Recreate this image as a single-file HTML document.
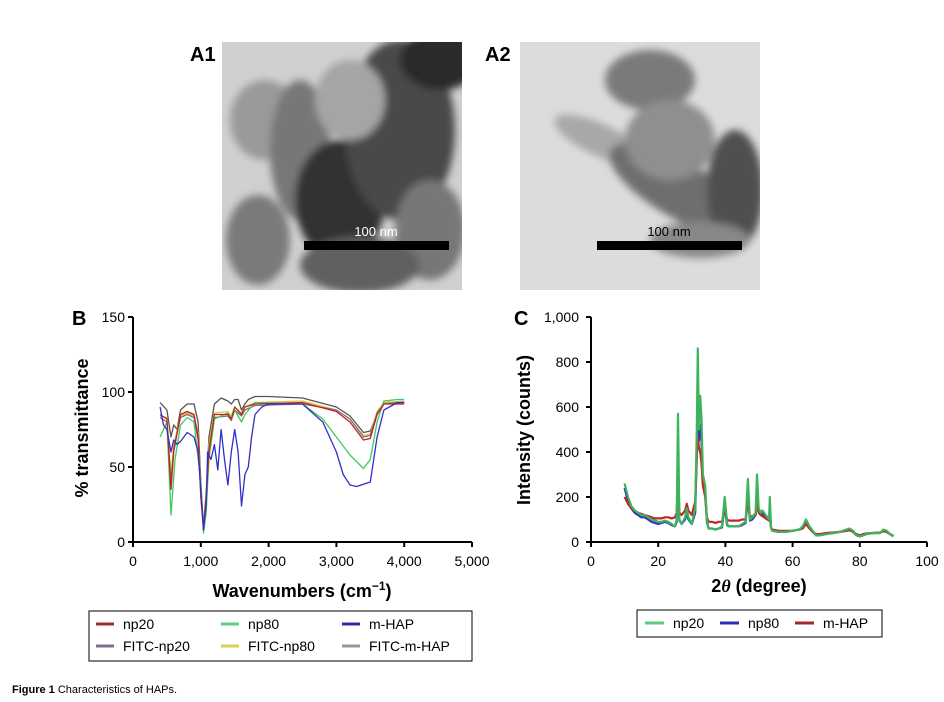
<!DOCTYPE html>
<html><head><meta charset="utf-8"><style>
html,body{margin:0;padding:0;background:#fff;}
svg{display:block;font-family:"Liberation Sans",Arial,sans-serif;}
</style></head><body>
<svg id="fig" width="944" height="702" viewBox="0 0 944 702" xmlns="http://www.w3.org/2000/svg">
<defs>
<filter id="blur" x="-20%" y="-20%" width="140%" height="140%"><feGaussianBlur stdDeviation="4"/></filter>
<clipPath id="c1"><rect x="222" y="42" width="240" height="248"/></clipPath>
<clipPath id="c2"><rect x="520" y="42" width="240" height="248"/></clipPath>
</defs>
<text x="190" y="61" font-size="20" font-weight="bold">A1</text>
<g clip-path="url(#c1)">
<rect x="222" y="42" width="240" height="248" fill="#d0d0d0"/>
<g filter="url(#blur)">
<ellipse cx="265" cy="120" rx="35" ry="40" fill="#9a9a9a"/>
<ellipse cx="258" cy="240" rx="32" ry="45" fill="#7a7a7a"/>
<ellipse cx="300" cy="150" rx="30" ry="70" fill="#777"/>
<ellipse cx="340" cy="200" rx="45" ry="60" fill="#333"/>
<ellipse cx="400" cy="130" rx="55" ry="90" fill="#4a4a4a"/>
<ellipse cx="350" cy="100" rx="35" ry="40" fill="#a5a5a5"/>
<ellipse cx="430" cy="230" rx="35" ry="50" fill="#777"/>
<ellipse cx="360" cy="265" rx="60" ry="28" fill="#606060"/>
<ellipse cx="440" cy="60" rx="40" ry="30" fill="#2a2a2a"/>
</g>
</g>
<rect x="304" y="241" width="145" height="9" fill="#000"/>
<text x="376" y="236" font-size="13" fill="#fff" text-anchor="middle">100 nm</text>

<text x="485" y="61" font-size="20" font-weight="bold">A2</text>
<g clip-path="url(#c2)">
<rect x="520" y="42" width="240" height="248" fill="#dcdcdc"/>
<g filter="url(#blur)">
<ellipse cx="650" cy="80" rx="45" ry="30" fill="#7a7a7a"/>
<ellipse cx="600" cy="140" rx="50" ry="16" fill="#a8a8a8" transform="rotate(25 600 140)"/>
<ellipse cx="680" cy="190" rx="80" ry="28" fill="#6e6e6e" transform="rotate(30 680 190)"/>
<ellipse cx="735" cy="190" rx="28" ry="60" fill="#505050"/>
<ellipse cx="670" cy="140" rx="45" ry="40" fill="#8f8f8f"/>
<ellipse cx="700" cy="240" rx="50" ry="18" fill="#888"/>
</g>
</g>
<rect x="597" y="241" width="145" height="9" fill="#000"/>
<text x="669" y="236" font-size="13" fill="#000" text-anchor="middle">100 nm</text>

<g id="chartB"></g>
<g id="chartC"></g>

<text x="12" y="693" font-size="11"><tspan font-weight="bold">Figure 1</tspan> Characteristics of HAPs.</text>
</svg>
<script>
// ---- FTIR data (panel B) ----
const ftirNp20X=[400,500,560,600,700,800,900,960,1000,1040,1080,1120,1200,1400,1450,1500,1600,1650,1800,2500,3000,3200,3400,3500,3600,3700,4000];
const ftirNp20Y=[85,82,35,60,85,87,85,70,30,8,30,60,85,85,82,90,85,90,92,93,87,80,68,69,85,92,92];
const ftirNp80X=[400,500,560,620,700,800,900,1000,1040,1080,1120,1200,1400,1450,1500,1600,1650,1800,2500,2800,3000,3200,3400,3500,3600,3700,3900,4000];
const ftirNp80Y=[70,80,18,55,78,83,80,40,6,20,55,82,86,82,88,80,85,93,92,82,70,58,49,55,80,94,95,95];
const ftirMhapX=[400,450,500,560,600,650,700,800,900,960,1000,1040,1080,1100,1150,1200,1250,1300,1350,1400,1450,1500,1550,1600,1650,1700,1750,1800,1900,2000,2500,2800,3000,3100,3200,3300,3500,3600,3700,3900,4000];
const ftirMhapY=[90,78,75,60,68,65,67,73,70,60,35,8,25,60,55,65,48,75,55,38,60,75,60,24,45,50,70,85,90,92,92,80,60,45,38,37,40,70,88,93,93];
const ftirFnp20X=[400,500,560,600,700,800,900,960,1000,1040,1080,1120,1200,1400,1450,1500,1600,1650,1800,2500,3000,3200,3400,3500,3600,3700,4000];
const ftirFnp20Y=[83,80,40,62,83,85,83,68,32,10,32,62,83,84,81,88,84,88,91,92,88,82,70,71,86,92,93];
const ftirFnp80X=[400,500,560,600,700,800,900,960,1000,1040,1080,1120,1200,1400,1450,1500,1600,1650,1800,2500,3000,3200,3400,3500,3600,3700,4000];
const ftirFnp80Y=[84,83,45,65,84,86,84,72,35,10,35,65,86,87,84,90,86,90,93,94,88,82,71,72,87,93,94];
const ftirFmhapX=[400,500,560,600,650,700,800,900,960,1000,1040,1080,1120,1200,1300,1400,1450,1500,1550,1600,1650,1700,1800,2000,2500,3000,3200,3400,3500,3600,3700,3800,4000];
const ftirFmhapY=[93,88,70,78,75,88,92,92,80,40,10,30,70,92,96,94,92,95,95,88,92,95,97,97,96,90,84,73,74,85,93,93,93];
const ftirXTicks=[0,1000,2000,3000,4000,5000];
const ftirXTickLabels=["0","1,000","2,000","3,000","4,000","5,000"];
const ftirYTicks=[0,50,100,150];
const ftirYTickLabels=["0","50","100","150"];

// ---- XRD data (panel C) ----
const xrdX=[10,11,12,13,14,15,16,17,18,19,20,21,22,23,24,25,25.5,25.9,26.3,27,28,28.5,29,30,31,31.5,31.8,32.1,32.5,32.9,33.3,34,34.5,35,36,37,38,39,39.8,40.5,41,42,43,44,45,46,46.7,47.3,48,49,49.4,49.9,50.5,51,52,53,53.2,53.6,54,56,58,60,62,63,64,65,66,67,68,70,72,74,76,77,78,79,80,81,82,84,86,87,88,89,90];
const xrdNp20=[260,200,160,140,130,120,120,110,100,95,90,90,95,90,80,70,100,570,100,80,110,150,110,80,150,500,860,500,650,550,300,250,100,60,60,55,60,70,200,80,70,70,70,70,80,90,280,100,110,130,300,150,130,140,120,100,200,60,50,45,45,50,55,70,100,70,50,30,30,35,40,45,55,60,50,30,25,30,35,40,40,55,50,35,25];
const xrdNp80=[240,180,150,130,120,110,110,100,90,85,80,85,90,85,75,70,90,300,95,80,100,130,100,80,130,400,700,450,520,450,260,220,90,60,60,55,60,65,160,75,70,70,70,70,75,85,220,95,100,120,240,140,120,130,110,95,160,60,50,45,45,50,55,65,90,65,45,30,30,35,40,45,50,55,45,30,25,30,35,40,40,50,45,35,25];
const xrdMhap=[200,170,150,140,130,125,120,115,110,105,105,105,110,110,105,110,130,260,130,120,140,170,140,120,180,380,470,420,400,350,250,200,110,90,90,85,90,90,150,100,95,95,95,95,100,100,180,110,115,120,180,130,120,115,105,95,130,60,55,50,50,50,55,60,80,60,45,35,35,40,42,45,50,52,45,35,30,35,38,40,42,48,45,35,28];
const xrdXTicks=[0,20,40,60,80,100];
const xrdYTicks=[0,200,400,600,800,1000];
const xrdYTickLabels=["0","200","400","600","800","1,000"];

const NS="http://www.w3.org/2000/svg";
function mk(parent,tag,attrs,text){const e=document.createElementNS(NS,tag);for(const k in attrs)e.setAttribute(k,attrs[k]);if(text!==undefined)e.textContent=text;parent.appendChild(e);return e;}

const bx=v=>133+(v/5000)*339;
const by=v=>542-(v/150)*225;
const cx=v=>591+(v/100)*336;
const cy=v=>542-(v/1000)*225;

function pathOf(xs,ys,fx,fy){return xs.map((x,i)=>(i?"L":"M")+fx(x).toFixed(1)+","+fy(ys[i]).toFixed(1)).join("");}

// ---- chart B ----
const B=document.getElementById('chartB');
const ftirSeries=[
 ["ftir-line-fitc-m-hap",ftirFmhapX,ftirFmhapY,"#555555"],
 ["ftir-line-fitc-np80",ftirFnp80X,ftirFnp80Y,"#d8c840"],
 ["ftir-line-fitc-np20",ftirFnp20X,ftirFnp20Y,"#8a6a8a"],
 ["ftir-line-np80",ftirNp80X,ftirNp80Y,"#3ccc5c"],
 ["ftir-line-np20",ftirNp20X,ftirNp20Y,"#c02020"],
 ["ftir-line-m-hap",ftirMhapX,ftirMhapY,"#3030c8"]];
ftirSeries.forEach(s=>{
 const p=mk(B,'path',{d:pathOf(s[1],s[2],bx,by),fill:'none',stroke:s[3],'stroke-width':1.3,'stroke-linejoin':'round'});
 
 
});
let a=mk(B,'path',{d:`M${bx(0)},${by(150)}V${by(0)}H${bx(5000)}`,fill:'none',stroke:'#000','stroke-width':2});


ftirXTicks.forEach((t,i)=>{
 mk(B,'line',{x1:bx(t),x2:bx(t),y1:by(0),y2:by(0)+5,stroke:'#000','stroke-width':2});
 const e=mk(B,'text',{x:bx(t),y:566,'font-size':14,'text-anchor':'middle'},ftirXTickLabels[i]);
 
 
});
ftirYTicks.forEach((t,i)=>{
 mk(B,'line',{x1:bx(0)-5,x2:bx(0),y1:by(t),y2:by(t),stroke:'#000','stroke-width':2});
 const e=mk(B,'text',{x:125,y:by(t)+5,'font-size':14,'text-anchor':'end'},ftirYTickLabels[i]);
 
 
});
let t=mk(B,'text',{x:72,y:325,'font-size':20,'font-weight':'bold'},'B');


t=mk(B,'text',{x:0,y:0,'font-size':18,'font-weight':'bold','text-anchor':'middle',transform:'translate(88,428) rotate(-90)'},'% transmittance');


t=mk(B,'text',{x:302,y:597,'font-size':18,'font-weight':'bold','text-anchor':'middle'});
t.innerHTML='Wavenumbers (cm<tspan font-size="12" dy="-7">−1</tspan><tspan dy="7">)</tspan>';


let lg=mk(B,'g',{});


mk(lg,'rect',{x:89,y:611,width:383,height:50,fill:'#fff',stroke:'#000','stroke-width':1});
const legB=[["np20","#a02828"],["np80","#5ccc84"],["m-HAP","#2c2cb0"],["FITC-np20","#806c8c"],["FITC-np80","#d8d050"],["FITC-m-HAP","#999999"]];
const colX=[96,221,342];
legB.forEach((l,i)=>{
 const x=colX[i%3],y=i<3?624:646;
 mk(lg,'line',{x1:x,x2:x+18,y1:y,y2:y,stroke:l[1],'stroke-width':3});
 const e=mk(lg,'text',{x:x+27,y:y+5,'font-size':14},l[0]);
 
 
});

// ---- chart C ----
const C=document.getElementById('chartC');
[["xrd-line-np80",xrdNp80,"#3434c0"],["xrd-line-m-hap",xrdMhap,"#c02828"],["xrd-line-np20",xrdNp20,"#3cb45c"]].forEach(s=>{
 const p=mk(C,'path',{d:pathOf(xrdX,s[1],cx,cy),fill:'none',stroke:s[2],'stroke-width':2.2,'stroke-linejoin':'round'});
 
 
});
a=mk(C,'path',{d:`M${cx(0)},${cy(1000)}V${cy(0)}H${cx(100)}`,fill:'none',stroke:'#000','stroke-width':2});


xrdXTicks.forEach(v=>{
 mk(C,'line',{x1:cx(v),x2:cx(v),y1:cy(0),y2:cy(0)+5,stroke:'#000','stroke-width':2});
 const e=mk(C,'text',{x:cx(v),y:566,'font-size':14,'text-anchor':'middle'},String(v));
 
 
});
xrdYTicks.forEach((v,i)=>{
 mk(C,'line',{x1:cx(0)-5,x2:cx(0),y1:cy(v),y2:cy(v),stroke:'#000','stroke-width':2});
 const e=mk(C,'text',{x:579,y:cy(v)+5,'font-size':14,'text-anchor':'end'},xrdYTickLabels[i]);
 
 
});
t=mk(C,'text',{x:514,y:325,'font-size':20,'font-weight':'bold'},'C');


t=mk(C,'text',{x:0,y:0,'font-size':18,'font-weight':'bold','text-anchor':'middle',transform:'translate(530,430) rotate(-90)'},'Intensity (counts)');


t=mk(C,'text',{x:759,y:592,'font-size':18,'font-weight':'bold','text-anchor':'middle'});
t.innerHTML='2<tspan font-style="italic" font-family="Liberation Serif">θ</tspan> (degree)';


lg=mk(C,'g',{});


mk(lg,'rect',{x:637,y:610,width:245,height:27,fill:'#fff',stroke:'#000','stroke-width':1});
[["np20","#5ccc84",645],["np80","#2c2cb0",720],["m-HAP","#a02828",795]].forEach(l=>{
 mk(lg,'line',{x1:l[2],x2:l[2]+19,y1:623,y2:623,stroke:l[1],'stroke-width':3});
 const e=mk(lg,'text',{x:l[2]+28,y:628,'font-size':14},l[0]);
 
 
});
</script>
</body></html>
